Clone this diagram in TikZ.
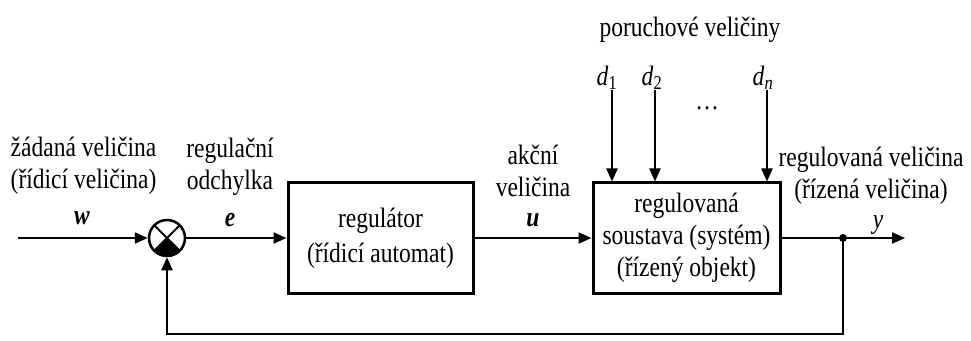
\documentclass[tikz,border=0pt]{standalone}
\usepackage{fontspec}
\setmainfont{Liberation Serif}[FakeStretch=0.84]
\usetikzlibrary{arrows.meta}
\begin{document}
\begin{tikzpicture}[x=1pt,y=1pt,
  every node/.style={font=\fontsize{28}{32}\selectfont},
  sig/.style={line width=2.2pt,-{Triangle[length=13pt,width=11pt]}},
  block/.style={draw,line width=3pt,minimum width=185pt,minimum height=110pt,align=center,inner sep=0pt},
  lbl/.style={inner sep=0pt,align=center},
  sumnode/.style={circle,draw,line width=2.5pt,minimum size=36pt,inner sep=0pt,
    path picture={
      \fill (path picture bounding box.center) -- (path picture bounding box.south west)
        -- (path picture bounding box.south east) -- cycle;
      \draw[line width=2pt] (path picture bounding box.south west) -- (path picture bounding box.north east)
        (path picture bounding box.north west) -- (path picture bounding box.south east);
    }},
  dot/.style={circle,fill,inner sep=0pt,minimum size=8pt},
]
\useasboundingbox (0,0) rectangle (971,340);

% blocks
\node[sumnode] (sum) at (167,102) {};
\node[block] (reg) at (380.5,102) {regulátor\\[3pt](řídicí automat)};
\node[block,minimum width=187pt] (plant) at (686.5,102) {regulovaná\\soustava (systém)\\(řízený objekt)};
\node[dot] (jn) at (843,102) {};

% free ends
\coordinate (in) at (18,102);
\coordinate (out) at (905,102);
\coordinate (fbr) at (843,6);
\coordinate (fbl) at (167,6);
\coordinate (d1s) at (612,250);
\coordinate (d2s) at (655,250);
\coordinate (dns) at (767,250);

% signal flow
\draw[sig] (in) -- (sum.west);
\draw[sig] (sum.east) -- (reg.west);
\draw[sig] (reg.east) -- (plant.west);
\draw[sig] (plant.east) -- (out);
\draw[sig] (jn.center) -- (fbr) -- (fbl) -- (sum.south);
\draw[sig] (d1s) -- (d1s |- plant.north);
\draw[sig] (d2s) -- (d2s |- plant.north);
\draw[sig] (dns) -- (dns |- plant.north);

% labels
\node[lbl] (wtxt) at (83.5,174) {žádaná veličina\\(řídicí veličina)};
\node[lbl] (w) at (82,122) {\textbf{\textit{w}}};
\node[lbl] (etxt) at (230,173) {regulační\\odchylka};
\node[lbl] (e) at (230,120) {\textbf{\textit{e}}};
\node[lbl] (utxt) at (533,169) {akční\\veličina};
\node[lbl] (u) at (533,120) {\textbf{\textit{u}}};
\node[lbl] (dtxt) at (690,310) {poruchové veličiny};
\node[lbl] (d1) at (607,262) {\textit{d}\textsubscript{1}};
\node[lbl] (d2) at (652,262) {\textit{d}\textsubscript{2}};
\node[lbl] (dn) at (763,262) {\textit{d}\textsubscript{\textit{n}}};
\node[lbl] (dots) at (707,232) {\dots};
\node[lbl] (ytxt) at (871,164) {regulovaná veličina\\(řízená veličina)};
\node[lbl] (y) at (878,115) {\textit{y}};
\end{tikzpicture}
\end{document}
